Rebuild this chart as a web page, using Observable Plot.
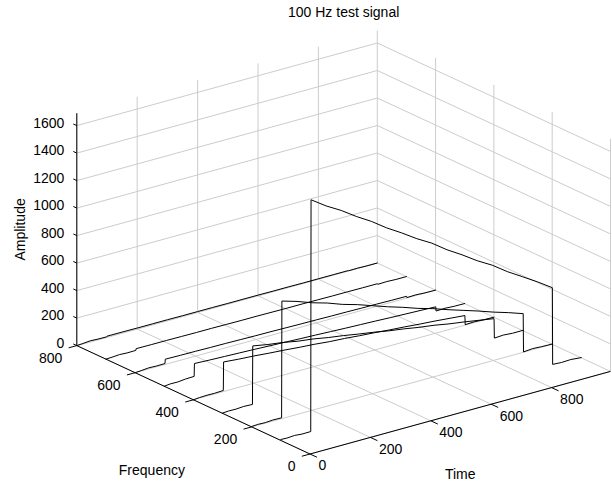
<!DOCTYPE html>
<html>
<head>
<meta charset="utf-8">
<script src="https://cdn.jsdelivr.net/npm/d3@7"></script>
<script src="https://cdn.jsdelivr.net/npm/@observablehq/plot@0.6"></script>
<style>
  html, body { margin: 0; padding: 0; background: #fff; }
  #chart svg { display: block; }
</style>
</head>
<body>
<div id="chart"></div>
<script>
// ---------- data ----------
const title = "100 Hz test signal";
const xLabel = "Time";
const yLabel = "Frequency";
const zLabel = "Amplitude";

const timeTicks = [0, 200, 400, 600, 800];
const freqTicks = [0, 200, 400, 600, 800];
const ampTicks = [0, 200, 400, 600, 800, 1000, 1200, 1400, 1600];

const timeLimits = [0, 995];
const freqLimits = [0, 800];
const ampLimits = [0, 1690];

const frequencies = [100, 200, 300, 400, 500, 600, 700, 800];
const times = [0, 20, 45, 70, 99, 100, 150, 200, 250, 300, 350, 400, 450, 500, 550, 600, 650, 700, 750, 800, 850, 899, 900, 930, 960, 995];

const amp100 = [7, 5, 9, 4, 5, 1690, 1615, 1552, 1478, 1412, 1335, 1268, 1196, 1133, 1055, 988, 915, 852, 775, 708, 640, 568, 10, 6, 9, 2];
const amp200 = [3, 6, 4, 8, 6, 855, 822, 782, 750, 710, 678, 640, 602, 568, 530, 498, 460, 425, 390, 352, 318, 281, 2, 8, 4, 2];
const amp300 = [2, 5, 4, 8, 5, 430, 410, 395, 374, 360, 340, 324, 305, 288, 268, 252, 233, 218, 198, 182, 164, 146, 4, 8, 3, 3];
const amp400 = [0, 4, 6, 5, 8, 215, 205, 198, 188, 180, 170, 162, 151, 144, 134, 126, 116, 108, 98, 90, 80, 70, 3, 6, 2, 0];
const amp500 = [0, 5, 4, 10, 12, 105, 100, 96, 92, 88, 83, 79, 74, 70, 65, 60, 56, 52, 47, 43, 39, 35, 4, 6, 2, 1];
const amp600 = [0, 3, 8, 6, 7, 38, 36, 35, 33, 32, 30, 28, 27, 25, 23, 22, 20, 19, 17, 16, 14, 13, 3, 5, 1, 0];
const amp700 = [0, 2, 6, 3, 4, 16, 15, 15, 14, 13, 13, 12, 11, 11, 10, 9, 9, 8, 7, 7, 6, 6, 1, 3, 0, 0];
const amp800 = [0, 3, 8, 5, 4, 8, 8, 7, 7, 7, 6, 6, 6, 5, 5, 5, 4, 4, 3, 3, 3, 3, 1, 2, 0, 0];
const amplitudes = [amp100, amp200, amp300, amp400, amp500, amp600, amp700, amp800];

// ---------- 3-D view (orthographic projection, screen px per data unit) ----------
const W = 612, H = 483;
const origin = {x: 309.5, y: 453.5};
const tDir = {x: 0.302, y: -0.083};
const fDir = {x: -0.2915, y: -0.1355};
const zScale = 0.1375;
function proj(t, f, z) {
  return {x: origin.x + tDir.x * t + fDir.x * f, y: origin.y + tDir.y * t + fDir.y * f - zScale * z};
}
function seg(a, b) { return {x1: a.x, y1: a.y, x2: b.x, y2: b.y}; }

const [t0, t1] = timeLimits, [f0, f1] = freqLimits, [z0, z1] = ampLimits;

// grid lines on the floor and the two back walls
const grid = [];
for (const t of timeTicks) {
  grid.push(seg(proj(t, f0, 0), proj(t, f1, 0)));
  grid.push(seg(proj(t, f1, 0), proj(t, f1, z1)));
}
for (const f of freqTicks) {
  grid.push(seg(proj(t0, f, 0), proj(t1, f, 0)));
  grid.push(seg(proj(t1, f, 0), proj(t1, f, z1)));
}
for (const z of ampTicks) {
  grid.push(seg(proj(t0, f1, z), proj(t1, f1, z)));
  grid.push(seg(proj(t1, f1, z), proj(t1, f0, z)));
}

// axis lines
const axes = [
  seg(proj(t0, f0, 0), proj(t1, f0, 0)),
  seg(proj(t0, f0, 0), proj(t0, f1, 0)),
  seg(proj(t0, f1, 0), proj(t0, f1, z1))
];
// tick marks
const ticks = [];
for (const t of timeTicks) ticks.push(seg(proj(t, f0, 0), proj(t, f0 - 24, 0)));
for (const f of freqTicks) ticks.push(seg(proj(t0, f, 0), proj(t0 - 27, f, 0)));
for (const z of ampTicks) ticks.push(seg(proj(t0, f1, z), proj(t0, f1 + 12, z)));

// tick labels
const startLabels = [], endLabels = [];
for (const t of timeTicks) { const p = proj(t, f0, 0); startLabels.push({x: p.x + 8.5, y: p.y + 12, text: String(t)}); }
for (const f of freqTicks) { const p = proj(t0, f, 0); endLabels.push({x: p.x - 14.5, y: p.y + 12.5, text: String(f)}); }
for (const z of ampTicks) { const p = proj(t0, f1, z); endLabels.push({x: p.x - 12.5, y: p.y - 2.5, text: String(z)}); }

// curves
const curves = [];
frequencies.forEach((f, i) => {
  times.forEach((t, j) => {
    const p = proj(t, f, amplitudes[i][j]);
    curves.push({freq: f, x: p.x, y: p.y});
  });
});

// titles
const fMid = proj(t0, (f0 + f1) / 2, 0);
const tMid = proj((t0 + t1) / 2, f0, 0);
const zBot = proj(t0, f1, z0), zTop = proj(t0, f1, z1);
const backTop = proj(t1, f1, z1);
const leftC = proj(t0, f1, 0), rightC = proj(t1, f0, 0);
const titles = [
  {x: (leftC.x + rightC.x) / 2, y: backTop.y - 18, text: title, rotate: 0},
  {x: fMid.x - 41.5, y: fMid.y + 70.5, text: yLabel, rotate: 0},
  {x: tMid.x, y: tMid.y + 62, text: xLabel, rotate: 0},
  {x: 20, y: (zBot.y + zTop.y) / 2, text: zLabel, rotate: -90}
];

const font = "'Liberation Sans', Arial, Helvetica, sans-serif";

const chart = Plot.plot({
  width: W,
  height: H,
  margin: 0,
  style: {fontFamily: font, background: "#fff"},
  x: {domain: [0, W], range: [0, W], axis: null},
  y: {domain: [0, H], range: [0, H], axis: null},
  marks: [
    Plot.link(grid, {x1: "x1", y1: "y1", x2: "x2", y2: "y2", stroke: "#cccccc", strokeWidth: 1}),
    Plot.line(curves, {x: "x", y: "y", z: "freq", stroke: "#000", strokeWidth: 1, curve: "linear"}),
    Plot.link(axes, {x1: "x1", y1: "y1", x2: "x2", y2: "y2", stroke: "#000", strokeWidth: 1}),
    Plot.link(ticks, {x1: "x1", y1: "y1", x2: "x2", y2: "y2", stroke: "#000", strokeWidth: 1}),
    Plot.text(startLabels, {x: "x", y: "y", text: "text", textAnchor: "start", fontSize: 14, fill: "#000"}),
    Plot.text(endLabels, {x: "x", y: "y", text: "text", textAnchor: "end", fontSize: 14, fill: "#000"}),
    Plot.text(titles, {x: "x", y: "y", text: "text", rotate: "rotate", textAnchor: "middle", fontSize: 14, fill: "#000"})
  ]
});
document.getElementById("chart").appendChild(chart);
</script>
</body>
</html>
